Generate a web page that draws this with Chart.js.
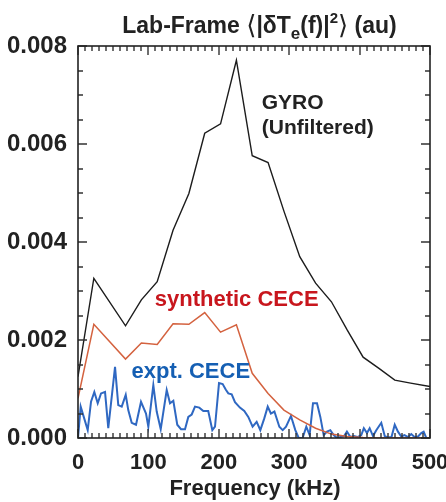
<!DOCTYPE html>
<html><head><meta charset="utf-8">
<script src="https://cdn.jsdelivr.net/npm/chart.js@4.4.1/dist/chart.umd.min.js"></script>
<style>html,body{margin:0;padding:0;background:#fff;}#wrap{width:446px;height:502px;position:relative;overflow:hidden}</style>
</head><body><div id="wrap"><canvas id="c" width="446" height="502"></canvas></div>
<script>
// ---- data (frequency in kHz, power in au) ----
const gyroFreq  = [0, 22.5, 67.5, 90, 112.5, 135, 157.5, 180, 202.5, 225, 247.5, 270, 292.5, 315, 337.5, 360, 382.5, 405, 427.5, 450, 472.5, 500];
const gyroPower = [0.00125, 0.00326, 0.00229, 0.00282, 0.00319, 0.00424, 0.00499, 0.00622, 0.00641, 0.00771, 0.00576, 0.00562, 0.00463, 0.00370, 0.00316, 0.00278, 0.00220, 0.00165, 0.00142, 0.00118, 0.00112, 0.00105];

const synthFreq  = [0, 22.5, 67.5, 90, 112.5, 135, 157.5, 180, 202.5, 225, 247.5, 270, 292.5, 315, 337.5, 360, 382.5, 405, 427.5, 450, 472.5, 500];
const synthPower = [0.00081, 0.00232, 0.00161, 0.00194, 0.00191, 0.00233, 0.00232, 0.00256, 0.00216, 0.00231, 0.00132, 0.00091, 0.00057, 0.00037, 0.00020, 0.00008, 0.00003, 0.00001, 0, 0, 0, 0];

const exptFreq = [0, 3.8, 13.8, 18.5, 23.2, 28, 32.7, 38.4, 43, 52.6, 57.2, 62.1, 67.8, 71.4, 76.3, 82.4, 89.5, 96.6, 99.9, 107, 111.8, 117.5, 126, 130.7, 135.4, 141, 146.3, 152, 156.7, 161.5, 166.2, 172.3, 178, 185, 190.8, 194.6, 200.3, 205.5, 209.8, 213.5, 218.3, 223, 230, 236.2, 241.9, 248, 253.8, 259, 264.6, 269.5, 274, 279, 286, 290.8, 295.5, 302.5, 308.7, 313.5, 319, 324.3, 329, 333.8, 339.5, 344.2, 349, 353.7, 358.4, 363.2, 368, 373, 378, 382, 387, 392, 397, 402.4, 406, 410.5, 414.3, 419, 423.7, 430.8, 435.7, 440.3, 445.3, 449.9, 454.5, 459.2, 463.8, 468.8, 473.4, 478, 483, 487.6, 491, 494.7];
const exptPower = [0, 0.00064, 0.00016, 0.00074, 0.00094, 0.00071, 0.00091, 0.00094, 0.00020, 0.00145, 0.00067, 0.00064, 0.00088, 0.00057, 0.00031, 0.00027, 0.00074, 0.00050, 0.00023, 0.00108, 0.00054, 0.00018, 0.00098, 0.00071, 0.00076, 0.00027, 0.00018, 0.00018, 0.00043, 0.00048, 0.00064, 0.00062, 0.00055, 0.00055, 0.00016, 0.00023, 0.00112, 0.00110, 0.00099, 0.00091, 0.00089, 0.00073, 0.00062, 0.00055, 0.00043, 0.00023, 0.00033, 0.00016, 0.00040, 0.00064, 0.00050, 0.00054, 0.00023, 0.00016, 0.00023, 0.00045, 0.00016, 0, 0, 0.00023, 0.00006, 0.00071, 0.00071, 0.00043, 0.00006, 0.00013, 0.00016, 0.00006, 0, 0.00002, 0.00004, 0.00013, 0.00002, 0.00004, 0.00002, 0.00006, 0.00020, 0.00010, 0.00020, 0.00004, 0.00016, 0.00031, 0.00004, 0.00001, 0.00002, 0.00027, 0.00013, 0.00003, 0.00006, 0.00002, 0.00008, 0.00002, 0.00003, 0.00010, 0.00013, 0];

const xTickValues = [0, 100, 200, 300, 400, 500];
const yTickValues = [0, 0.002, 0.004, 0.006, 0.008];

const seriesLabels = ['GYRO (Unfiltered)', 'synthetic CECE', 'expt. CECE'];
const titlePieces = [
  {t: 'Lab-Frame ', k: 'b'}, {t: '\u27E8', k: 'br'}, {t: '|\u03B4T', k: 'b'}, {t: 'e', k: 'sub'},
  {t: '(f)|', k: 'b'}, {t: '2', k: 'sup'}, {t: '\u27E9', k: 'br'}, {t: ' (au)', k: 'b'}
];
const xAxisTitle = 'Frequency (kHz)';

// ---- helpers ----
const FONT = '"Liberation Sans", Arial, Helvetica, sans-serif';
const INK = '#222222';
function pts(xs, ys) { return xs.map((x, i) => ({x: x, y: ys[i]})); }

const deco = {
  id: 'deco',
  afterDraw(chart) {
    const ctx = chart.ctx, a = chart.chartArea, xs = chart.scales.x, ys = chart.scales.y;
    ctx.save();
    // ticks (inward, all four sides)
    ctx.strokeStyle = '#333333';
    ctx.lineWidth = 1.4;
    ctx.beginPath();
    for (let i = 0; i <= 50; i++) {
      const v = i * 10;
      const px = Math.round(xs.getPixelForValue(v));
      const len = (i % 10 === 0) ? 9 : 5;
      ctx.moveTo(px, a.bottom); ctx.lineTo(px, a.bottom - len);
      ctx.moveTo(px, a.top); ctx.lineTo(px, a.top + len);
    }
    for (let k = 0; k <= 16; k++) {
      const v = k * 0.0005;
      const py = Math.round(ys.getPixelForValue(v));
      const len = (k % 4 === 0) ? 9 : 5;
      ctx.moveTo(a.left, py); ctx.lineTo(a.left + len, py);
      ctx.moveTo(a.right, py); ctx.lineTo(a.right - len, py);
    }
    ctx.stroke();
    // frame
    ctx.strokeStyle = INK; ctx.lineWidth = 1.6;
    ctx.strokeRect(a.left, a.top, a.right - a.left, a.bottom - a.top);

    // series annotations
    ctx.textBaseline = 'alphabetic'; ctx.textAlign = 'left';
    ctx.font = 'bold 21px ' + FONT;
    ctx.fillStyle = INK;
    ctx.fillText('GYRO', xs.getPixelForValue(261), ys.getPixelForValue(0.00672));
    ctx.fillText('(Unfiltered)', xs.getPixelForValue(261), ys.getPixelForValue(0.00620));
    ctx.font = 'bold 22px ' + FONT;
    ctx.fillStyle = '#c8161d';
    ctx.fillText(seriesLabels[1], xs.getPixelForValue(109), ys.getPixelForValue(0.00269));
    ctx.fillStyle = '#155fb3';
    ctx.fillText(seriesLabels[2], xs.getPixelForValue(76), ys.getPixelForValue(0.00122));

    // title
    const fonts = {
      b: 'bold 23px ' + FONT, sub: 'bold 17px ' + FONT, sup: 'bold 15px ' + FONT,
      br: '26px "DejaVu Sans", sans-serif'
    };
    const off = {b: 0, sub: 6, sup: -10, br: 1};
    let w = 0;
    titlePieces.forEach(p => { ctx.font = fonts[p.k]; w += ctx.measureText(p.t).width; });
    let x = 259.5 - w / 2;
    const base = 33;
    ctx.fillStyle = INK;
    titlePieces.forEach(p => {
      ctx.font = fonts[p.k];
      ctx.fillText(p.t, x, base + off[p.k]);
      x += ctx.measureText(p.t).width;
    });

    // x-axis title
    ctx.font = 'bold 22px ' + FONT;
    ctx.textAlign = 'center';
    ctx.fillText(xAxisTitle, (a.left + a.right) / 2 + 1, 495);
    ctx.restore();
  }
};

new Chart(document.getElementById('c'), {
  type: 'scatter',
  data: {
    datasets: [
      {label: seriesLabels[0], data: pts(gyroFreq, gyroPower), showLine: true, borderColor: '#1c1c1c', borderWidth: 1.4, pointRadius: 0, tension: 0, order: 2},
      {label: seriesLabels[1], data: pts(synthFreq, synthPower), showLine: true, borderColor: '#d4623f', borderWidth: 1.5, pointRadius: 0, tension: 0, order: 1},
      {label: seriesLabels[2], data: pts(exptFreq, exptPower), showLine: true, borderColor: '#2f68c2', borderWidth: 2, pointRadius: 0, tension: 0, order: 3}
    ]
  },
  options: {
    responsive: false, animation: false, devicePixelRatio: 1,
    layout: {padding: {left: 0, right: 16, top: 46, bottom: 0}},
    plugins: {legend: {display: false}, tooltip: {enabled: false}, title: {display: false}},
    scales: {
      x: {
        type: 'linear', min: 0, max: 500,
        grid: {display: false, drawTicks: false},
        border: {display: false},
        afterBuildTicks: s => { s.ticks = xTickValues.map(v => ({value: v})); },
        ticks: {color: INK, font: {family: FONT, size: 22, weight: 'bold'}, padding: 12, maxRotation: 0, autoSkip: false, callback: v => String(v)},
        afterFit: s => { s.height = 64; s.paddingLeft = 0; s.paddingRight = 0; }
      },
      y: {
        type: 'linear', min: 0, max: 0.008,
        grid: {display: false, drawTicks: false},
        border: {display: false},
        afterBuildTicks: s => { s.ticks = yTickValues.map(v => ({value: v})); },
        ticks: {color: INK, font: {family: FONT, size: 24, weight: 'bold'}, padding: 11, autoSkip: false, callback: v => Number(v).toFixed(3)},
        afterFit: s => { s.width = 78; s.paddingTop = 0; s.paddingBottom = 0; }
      }
    }
  },
  plugins: [deco]
});
</script>
</body></html>
